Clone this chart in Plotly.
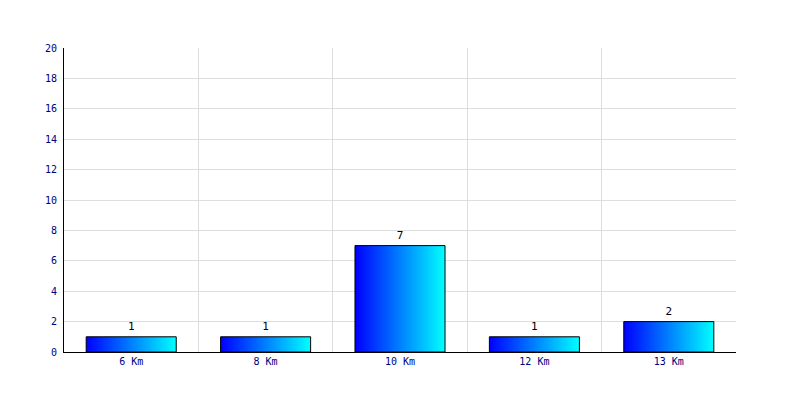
import plotly.graph_objects as go

categories = ["6 Km", "8 Km", "10 Km", "12 Km", "13 Km"]
values = [1, 1, 7, 1, 2]
y_ticks = list(range(0, 21, 2))

bar_half = 0.335
font_family = "DejaVu Sans Mono"
navy = "#000080"

fig = go.Figure()
for i, v in enumerate(values):
    fig.add_trace(go.Scatter(
        x=[i - bar_half, i - bar_half, i + bar_half, i + bar_half, i - bar_half],
        y=[0, v, v, 0, 0],
        mode="lines",
        fill="toself",
        fillgradient=dict(type="horizontal",
                          colorscale=[[0, "#0000ff"], [1, "#00ffff"]]),
        line=dict(color="black", width=1),
        hoverinfo="skip",
        showlegend=False,
    ))

fig.add_trace(go.Scatter(
    x=list(range(len(values))),
    y=values,
    mode="markers+text",
    marker=dict(size=5, color="rgba(0,0,0,0)"),
    text=[str(v) for v in values],
    textposition="top center",
    textfont=dict(family=font_family, size=11, color="black"),
    showlegend=False,
    hoverinfo="skip",
))

fig.update_layout(
    width=800, height=400,
    margin=dict(l=56, r=72, t=40, b=56),
    paper_bgcolor="white",
    plot_bgcolor="white",
    font=dict(family=font_family, size=10, color=navy),
    xaxis=dict(
        range=[-0.5, len(values) - 0.5],
        tickvals=list(range(len(values))),
        ticktext=categories,
        showgrid=False,
        zeroline=False,
        showline=True,
        linecolor="black",
        linewidth=1,
        ticks="",
        tickfont=dict(family=font_family, size=10, color=navy),
        minor=dict(
            tickvals=[k - 0.5 for k in range(len(values) + 1)],
            showgrid=True,
            gridcolor="#dddddd",
            gridwidth=1,
            ticks="",
        ),
        fixedrange=True,
    ),
    yaxis=dict(
        range=[0, 20],
        tickvals=y_ticks,
        showgrid=True,
        gridcolor="#dddddd",
        gridwidth=1,
        zeroline=False,
        showline=True,
        linecolor="black",
        linewidth=1,
        ticks="",
        ticklabelstandoff=4,
        tickfont=dict(family=font_family, size=10, color=navy),
        fixedrange=True,
    ),
)

fig.write_html("out.html")
